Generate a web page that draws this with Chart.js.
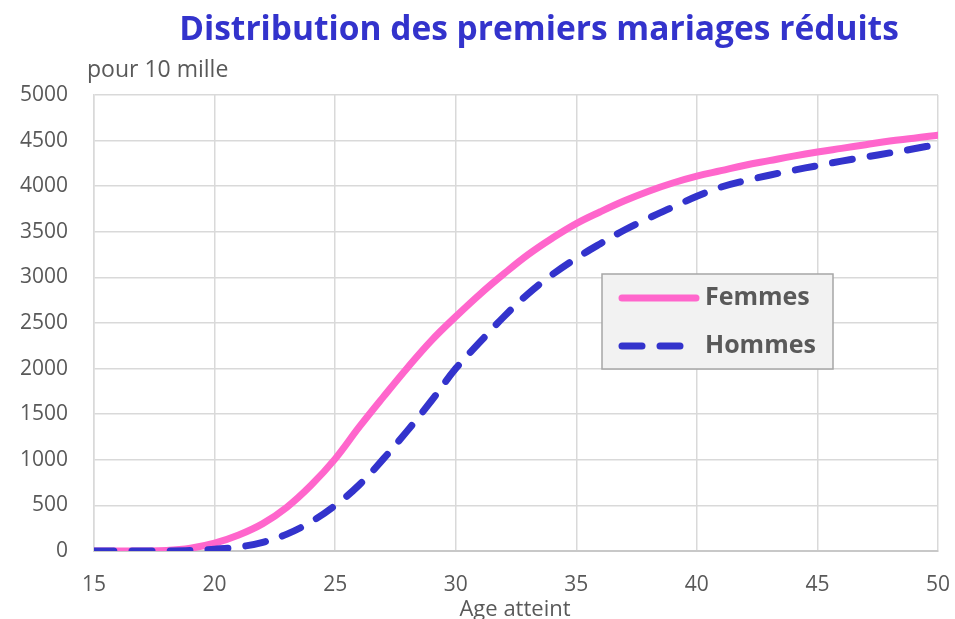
<!DOCTYPE html>
<html>
<head>
<meta charset="utf-8">
<script src="https://cdn.jsdelivr.net/npm/chart.js@4.4.1/dist/chart.umd.min.js"></script>
<style>
html,body{margin:0;padding:0;background:#fff;}
#wrap{position:relative;width:955px;height:619px;}
</style>
</head>
<body>
<div id="wrap"><canvas id="c" width="955" height="619"></canvas></div>
<script>
const title = "Distribution des premiers mariages réduits";
const yUnit = "pour 10 mille";
const xTitle = "Age atteint";
const seriesNames = ["Femmes", "Hommes"];
const ages = [15,16,17,18,19,20,21,22,23,24,25,26,27,28,29,30,31,32,33,34,35,36,37,38,39,40,41,42,43,44,45,46,47,48,49,50];
const femmes = [0,0,0,5,30,85,175,300,480,720,1010,1360,1690,2010,2310,2570,2815,3040,3250,3430,3590,3720,3840,3945,4035,4110,4170,4230,4280,4330,4375,4415,4455,4495,4525,4560];
const hommes = [0,0,0,0,5,20,45,95,185,320,500,725,1010,1320,1650,2000,2290,2570,2820,3030,3210,3370,3520,3650,3770,3890,3990,4060,4120,4175,4225,4275,4320,4365,4410,4460];
const xTicks = [15,20,25,30,35,40,45,50];
const yMax = 5000, yStep = 500;

const FONT = "'Open Sans', sans-serif";
const GRAY = '#595959';
const PINK = '#FF66CC';
const BLUE = '#3333CC';

const extras = {
  id: 'extras',
  afterDraw(chart) {
    const ctx = chart.ctx;
    ctx.save();
    ctx.fillStyle = BLUE;
    ctx.font = "bold 33.5px " + FONT;
    ctx.textAlign = 'center';
    ctx.textBaseline = 'alphabetic';
    ctx.fillText(title, 539, 40);
    ctx.fillStyle = GRAY;
    ctx.font = "23px " + FONT;
    ctx.textAlign = 'left';
    ctx.fillText(yUnit, 87, 77);
    ctx.font = "22px " + FONT;
    ctx.textAlign = 'center';
    ctx.fillText(xTitle, 515, 616);
    const bx = 602, by = 274, bw = 231, bh = 95;
    ctx.fillStyle = '#f2f2f2';
    ctx.fillRect(bx, by, bw, bh);
    ctx.strokeStyle = '#a6a6a6';
    ctx.lineWidth = 1.5;
    ctx.strokeRect(bx, by, bw, bh);
    const rows = [298, 346];
    chart.data.datasets.forEach((d) => {
      const idx = seriesNames.indexOf(d.label);
      const y = rows[idx];
      ctx.beginPath();
      ctx.strokeStyle = d.borderColor;
      ctx.lineWidth = d.borderWidth;
      ctx.lineCap = 'round';
      ctx.setLineDash(d.borderDash || []);
      ctx.moveTo(622, y);
      ctx.lineTo(idx === 0 ? 696 : 684, y);
      ctx.stroke();
      ctx.setLineDash([]);
      ctx.fillStyle = GRAY;
      ctx.font = "bold 25px " + FONT;
      ctx.textAlign = 'left';
      ctx.textBaseline = 'middle';
      ctx.fillText(d.label, 705, y);
    });
    ctx.restore();
  }
};

new Chart(document.getElementById('c'), {
  type: 'line',
  data: {
    datasets: [
      {
        label: seriesNames[1],
        data: ages.map((a, i) => ({x: a, y: hommes[i]})),
        borderColor: BLUE,
        borderWidth: 7,
        borderDash: [20, 18],
        borderCapStyle: 'round',
        tension: 0.4,
        pointRadius: 0,
        fill: false,
        order: 0
      },
      {
        label: seriesNames[0],
        data: ages.map((a, i) => ({x: a, y: femmes[i]})),
        borderColor: PINK,
        borderWidth: 7,
        borderCapStyle: 'round',
        tension: 0.4,
        pointRadius: 0,
        fill: false,
        order: 1
      }
    ]
  },
  options: {
    responsive: false,
    animation: false,
    layout: { padding: { top: 95, right: 17, left: 0, bottom: 0 } },
    plugins: { legend: { display: false }, title: { display: false }, tooltip: { enabled: false } },
    scales: {
      x: {
        type: 'linear',
        min: 15, max: 50,
        afterBuildTicks(s) { s.ticks = xTicks.map(v => ({value: v})); },
        afterFit(s) { s.height = 68; s.paddingRight = 0; s.paddingLeft = 0; },
        grid: { color: '#d9d9d9', lineWidth: 1.5, drawTicks: false },
        border: { color: '#c8c8c8', width: 2 },
        ticks: { color: GRAY, font: { family: FONT, size: 21 }, padding: 21, maxRotation: 0, callback: v => String(v) }
      },
      y: {
        min: 0, max: yMax,
        ticks: { stepSize: yStep, color: GRAY, font: { family: FONT, size: 21 }, padding: 26, callback: v => String(v) },
        afterFit(s) { s.width = 94; s.paddingTop = 0; s.paddingBottom = 0; },
        grid: { color: '#d9d9d9', lineWidth: 1.5, drawTicks: false },
        border: { color: '#d9d9d9', width: 1.5 }
      }
    }
  },
  plugins: [extras]
});
</script>
</body>
</html>
